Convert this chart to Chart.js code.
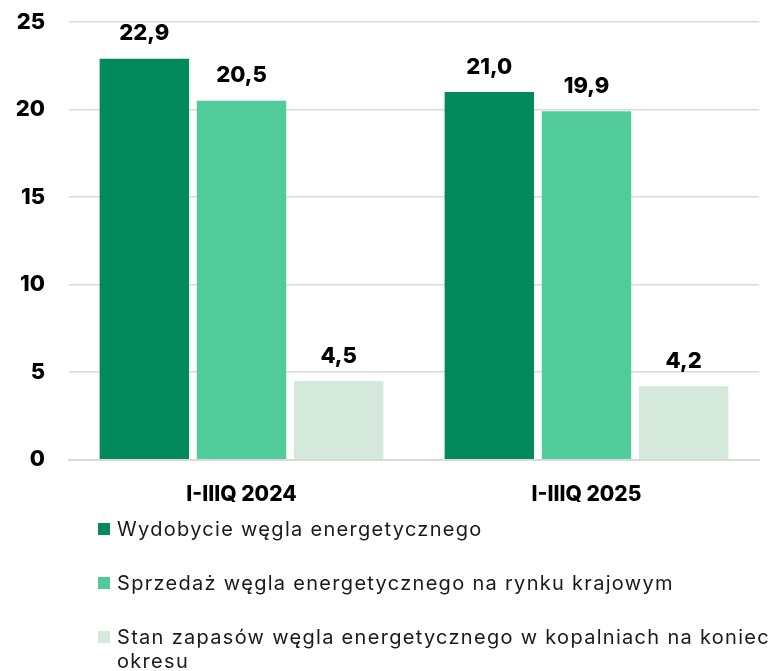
<!DOCTYPE html>
<html>
<head>
<meta charset="utf-8">
<script src="https://cdn.jsdelivr.net/npm/chart.js@4"></script>
<style>
body{margin:0;background:#fff;font-family:Inter,"Open Sans",sans-serif;}
#wrap{position:relative;width:774px;height:533px;}
#legend{position:absolute;left:98px;top:517px;width:676px;color:#1a1a1a;font-size:20px;line-height:24px;letter-spacing:1.3px;}
.item{position:relative;padding-left:19px;margin-bottom:30px;}
.sw{position:absolute;left:0;top:6px;width:12px;height:12px;}
</style>
</head>
<body>
<div id="wrap"><canvas id="myChart" width="774" height="533"></canvas></div>
<div id="legend"></div>
<script>
// dane
kategorie=["I-IIIQ 2024","I-IIIQ 2025"]
nazwy=["Wydobycie węgla energetycznego","Sprzedaż węgla energetycznego na rynku krajowym","Stan zapasów węgla energetycznego w kopalniach na koniec okresu"]
wydobycie=[22.9,21.0]
sprzedaz=[20.5,19.9]
zapasy=[4.5,4.2]
kolory=["#028a5c","#52cb9a","#d5e8dc"]
osY=[0,5,10,15,20,25]

// etykiety wartosci nad slupkami
const wartosci={
    id:'wartosci',
    afterDatasetsDraw(chart){
        const c=chart.ctx
        c.save()
        c.font="800 22px Inter, 'Open Sans', sans-serif"
        c.fillStyle="#000"
        c.textAlign="center"
        c.textBaseline="bottom"
        chart.data.datasets.forEach((ds,i)=>{
            chart.getDatasetMeta(i).data.forEach((bar,j)=>{
                c.fillText(ds.data[j].toFixed(1).replace('.',','),bar.x,bar.y-14)
            })
        })
        c.restore()
    }
}

const ctx=document.getElementById('myChart').getContext('2d');
const myChart=new Chart(ctx,{
    type:'bar',
    data:{
        labels:kategorie,
        datasets:[wydobycie,sprzedaz,zapasy].map((d,i)=>({
            label:nazwy[i],
            data:d,
            backgroundColor:kolory[i],
            barPercentage:0.92,
            categoryPercentage:0.845
        }))
    },
    options:{
        responsive:false,
        animation:false,
        layout:{padding:{top:22,right:15,bottom:4,left:0}},
        plugins:{legend:{display:false},tooltip:{enabled:false}},
        scales:{
            x:{
                grid:{display:false,drawTicks:false},
                border:{color:"#d9d9d9",width:2},
                ticks:{color:"#000",padding:22,font:{family:"Inter, 'Open Sans', sans-serif",size:21,weight:"800"}}
            },
            y:{
                min:0,max:25,
                afterBuildTicks(ax){ax.ticks=osY.map(v=>({value:v}))},
                afterFit(ax){ax.width=69;ax.paddingTop=0;ax.paddingBottom=0},
                grid:{color:"#d9d9d9",lineWidth:1.5,drawTicks:false},
                border:{display:false},
                ticks:{color:"#000",padding:24,font:{family:"Inter, 'Open Sans', sans-serif",size:22,weight:"800"}}
            }
        }
    },
    plugins:[wartosci]
});

// legenda
const leg=document.getElementById('legend')
nazwy.forEach((n,i)=>{
    const d=document.createElement('div')
    d.className='item'
    d.innerHTML='<span class="sw" style="background:'+kolory[i]+'"></span>'+n
    leg.appendChild(d)
})
</script>
</body>
</html>
